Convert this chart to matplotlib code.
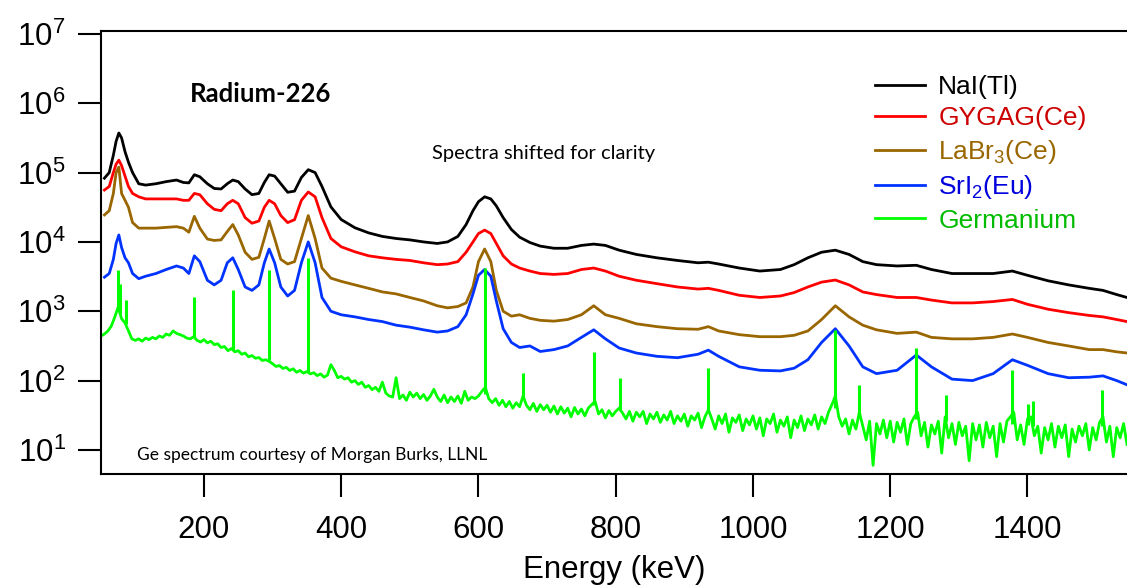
import numpy as np
import matplotlib.pyplot as plt
from matplotlib.ticker import FixedLocator, NullLocator, FuncFormatter

plt.rcParams['font.family'] = ['Liberation Sans', 'DejaVu Sans']
plt.rcParams['mathtext.fontset'] = 'custom'
plt.rcParams['mathtext.rm'] = 'Liberation Sans'

# energy grid (keV) shared by the four scintillator spectra
energy = [55, 62, 68, 72, 76, 80, 85, 90, 96, 105, 115, 130, 145, 160, 170, 178,
          186, 194, 205, 215, 225, 234, 242, 250, 260, 270, 280, 288, 295, 303,
          312, 322, 332, 342, 352, 362, 372, 385, 400, 420, 440, 460, 480, 500,
          520, 540, 555, 570, 582, 592, 600, 609, 618, 626, 636, 648, 660, 675,
          690, 710, 730, 750, 768, 785, 805, 830, 860, 890, 920, 935, 950, 980,
          1010, 1040, 1060, 1080, 1100, 1120, 1140, 1160, 1180, 1210, 1238, 1260,
          1290, 1320, 1350, 1378, 1400, 1430, 1460, 1490, 1510, 1530, 1545]

nai = [83000, 100000, 178000, 282000, 372000, 316000, 200000, 141000, 100000,
       69000, 66000, 69000, 74000, 78000, 72000, 71000, 93000, 87000, 69000,
       59000, 58000, 69000, 78000, 74000, 58000, 48000, 50000, 72000, 93000,
       89000, 69000, 52000, 54000, 85000, 110000, 100000, 63000, 32000, 21000,
       16000, 13500, 12000, 11200, 10700, 10000, 9500, 10000, 12000, 17800,
       28200, 38000, 44700, 41700, 33100, 22400, 15100, 11700, 9800, 8700,
       8100, 8100, 8900, 9300, 8900, 7600, 6600, 5900, 5400, 5000, 5100, 4800,
       4200, 3800, 4000, 4700, 5900, 7100, 7600, 6600, 5200, 4700, 4500, 4600,
       4000, 3500, 3500, 3500, 3800, 3300, 2750, 2400, 2140, 2000, 1740, 1580]

gygag = [56000, 63000, 100000, 132000, 151000, 126000, 89000, 63000, 50000,
         44700, 41700, 41700, 41700, 41700, 39800, 39800, 50000, 47900, 35500,
         29500, 28200, 35500, 39800, 35500, 22400, 18600, 20000, 31600, 39800,
         35500, 24000, 19000, 20900, 39800, 52500, 44700, 22400, 11200, 8500,
         7200, 6300, 5900, 5600, 5400, 5000, 4700, 4800, 5200, 7100, 10000,
         13200, 14800, 13200, 9500, 6300, 4800, 4200, 3800, 3500, 3400, 3500,
         4000, 4200, 3800, 3200, 2800, 2500, 2240, 2090, 2140, 2000, 1700, 1580,
         1660, 1860, 2240, 2630, 2820, 2400, 1900, 1740, 1580, 1580, 1450, 1320,
         1320, 1380, 1480, 1260, 1070, 955, 870, 830, 760, 710]

labr = [24500, 28200, 50000, 100000, 120000, 50000, 39800, 31600, 19000,
        15800, 15800, 15800, 16200, 16600, 15800, 13800, 23400, 15800, 11000,
        10500, 10700, 14100, 17800, 12600, 7100, 5600, 6000, 11200, 20000,
        11200, 5600, 4800, 5200, 11200, 24000, 11200, 4200, 3000, 2700, 2400,
        2140, 1900, 1780, 1580, 1410, 1200, 1120, 1170, 1320, 2240, 5200, 7900,
        5200, 2000, 1000, 850, 890, 790, 740, 720, 760, 890, 1200, 890, 790,
        660, 600, 560, 550, 600, 520, 460, 430, 430, 450, 520, 760, 1200, 830,
        630, 540, 480, 500, 420, 400, 400, 420, 470, 420, 355, 316, 280, 280,
        260, 250]

sri2 = [3100, 3500, 5600, 9500, 12600, 8300, 5900, 5000, 3500, 2950, 3200,
        3500, 4000, 4500, 4200, 3500, 6300, 5200, 2800, 2400, 2800, 5000, 5900,
        4000, 2240, 2000, 2400, 5000, 7900, 5000, 2240, 1660, 2000, 5000, 10000,
        5000, 1580, 1000, 890, 830, 760, 710, 630, 590, 540, 500, 520, 600, 890,
        1780, 3300, 4000, 3200, 1410, 560, 355, 300, 316, 263, 280, 316, 420,
        540, 400, 295, 250, 224, 214, 240, 275, 224, 158, 141, 138, 151, 200,
        355, 560, 316, 158, 126, 141, 234, 158, 105, 100, 126, 200, 166, 126,
        110, 112, 117, 100, 87]

# germanium spectrum: continuum every 5 keV from 50 to 1545 keV
ge_kev = np.arange(50, 1550, 5)
ge_counts = [440, 470, 520, 610, 820, 1150, 780, 680, 520, 400,
             380, 400, 370, 410, 390, 420, 400, 440, 420, 470,
             450, 520, 480, 460, 440, 410, 400, 430, 380, 360,
             390, 350, 370, 330, 340, 300, 310, 270, 290, 260,
             270, 240, 250, 220, 230, 210, 215, 195, 200, 190,
             175, 160, 165, 150, 155, 140, 148, 132, 140, 128,
             135, 125, 130, 118, 125, 112, 120, 170, 140, 110,
             115, 105, 110, 95, 100, 88, 95, 80, 85, 74,
             80, 70, 95, 66, 60, 58, 110, 55, 62, 52,
             68, 58, 66, 55, 63, 52, 60, 75, 58, 50,
             62, 48, 58, 50, 60, 47, 70, 52, 58, 55,
             60, 70, 80, 55, 48, 55, 44, 52, 42, 50,
             40, 48, 42, 60, 44, 38, 47, 36, 45, 38,
             44, 35, 43, 33, 42, 34, 40, 30, 41, 33,
             39, 31, 40, 45, 50, 33, 38, 29, 37, 31,
             36, 40, 34, 28, 36, 26, 35, 30, 36, 24,
             33, 28, 35, 25, 32, 27, 36, 24, 31, 26,
             33, 22, 31, 27, 34, 21, 30, 38, 28, 20,
             31, 24, 33, 18, 29, 25, 32, 19, 28, 23,
             31, 20, 29, 16, 28, 24, 33, 18, 27, 22,
             30, 15, 27, 21, 31, 19, 28, 23, 32, 20,
             30, 24, 35, 45, 60, 30, 22, 28, 17, 27,
             20, 35, 22, 14, 26, 6, 24, 17, 27, 15,
             26, 13, 25, 18, 28, 12, 24, 30, 35, 16,
             25, 11, 23, 17, 26, 9, 30, 15, 24, 12,
             25, 16, 22, 7, 24, 14, 23, 11, 25, 15,
             22, 8, 24, 13, 26, 30, 35, 14, 23, 12,
             28, 30, 16, 22, 9, 21, 14, 24, 11, 22,
             15, 23, 8, 20, 13, 22, 16, 24, 10, 21,
             14, 25, 30, 13, 22, 8, 21, 15, 24, 12]

# germanium photopeaks (narrow lines)
ge_line_kev = [75, 77, 87, 186, 242, 295, 352, 609, 665, 768, 806, 934,
               1120, 1155, 1238, 1281, 1378, 1401, 1408, 1509]
ge_line_base = [1100, 900, 650, 420, 280, 200, 135, 65, 55, 45, 38, 35,
                40, 30, 28, 26, 24, 23, 22, 22]
ge_line_top = [4000, 2500, 1450, 1600, 2000, 4000, 5900, 4200, 130, 260, 110,
               150, 540, 87, 300, 63, 140, 46, 50, 74]

labels = ['NaI(Tl)', 'GYGAG(Ce)', r'LaBr$\mathregular{_3}$(Ce)',
          r'SrI$\mathregular{_2}$(Eu)', 'Germanium']
line_colors = ['#000000', '#ff0000', '#996600', '#0033ff', '#00ff00']
text_colors = ['#000000', '#cc0000', '#996600', '#0000dd', '#00bb00']
yticks = [1e1, 1e2, 1e3, 1e4, 1e5, 1e6, 1e7]
xticks = [200, 400, 600, 800, 1000, 1200, 1400]

W, H = 1127, 587
fig = plt.figure(figsize=(W / 100, H / 100), dpi=100)
ax = fig.add_axes([101 / W, 1 - 474 / H, 1 - 101 / W, (474 - 31) / H])

for y, c, lab in zip([nai, gygag, labr, sri2], line_colors[:4], labels[:4]):
    ax.plot(energy, y, color=c, lw=2.0, label=lab)
ax.plot(ge_kev, ge_counts, color=line_colors[4], lw=2.0, label=labels[4])
ax.vlines(ge_line_kev, ge_line_base, ge_line_top, color=line_colors[4], lw=2.2)

ax.set_yscale('log')
ax.set_xlim(50, 1545)
ax.set_ylim(4.5, 1.1e7)
ax.yaxis.set_major_locator(FixedLocator(yticks))
ax.yaxis.set_minor_locator(NullLocator())
ax.yaxis.set_major_formatter(FuncFormatter(
    lambda v, p: r'$\mathregular{10^{%d}}$' % round(np.log10(v))))
ax.xaxis.set_major_locator(FixedLocator(xticks))
ax.xaxis.set_minor_locator(NullLocator())

ax.spines['right'].set_visible(False)
for s in ['left', 'top', 'bottom']:
    ax.spines[s].set_linewidth(1.5)
ax.tick_params(direction='out', length=16.5, width=1.5, labelsize=22.5)
ax.tick_params(axis='x', pad=13)
ax.tick_params(axis='y', pad=9)
ax.set_xlabel('Energy (keV)', fontsize=22.5, labelpad=7)

leg = ax.legend(loc='upper left', bbox_to_anchor=(875 / W, 1 - 75 / H),
                bbox_transform=fig.transFigure, frameon=False, borderpad=0,
                borderaxespad=0, handlelength=1.9, handletextpad=0.5,
                labelspacing=0.28, fontsize=19)
for t, c in zip(leg.get_texts(), text_colors):
    t.set_color(c)

fig.text(190 / W, 1 - 94 / H, 'Radium-226', fontsize=18.5, fontweight='bold',
         family=['Lato', 'DejaVu Sans'], va='center', ha='left')
fig.text(432 / W, 1 - 153 / H, 'Spectra shifted for clarity', fontsize=14.5,
         family=['Lato', 'DejaVu Sans'], va='center', ha='left')
fig.text(137 / W, 1 - 455 / H, 'Ge spectrum courtesy of Morgan Burks, LLNL',
         fontsize=12.5, family=['Lato', 'DejaVu Sans'], va='center', ha='left')

fig.savefig('out.png', dpi=100)
